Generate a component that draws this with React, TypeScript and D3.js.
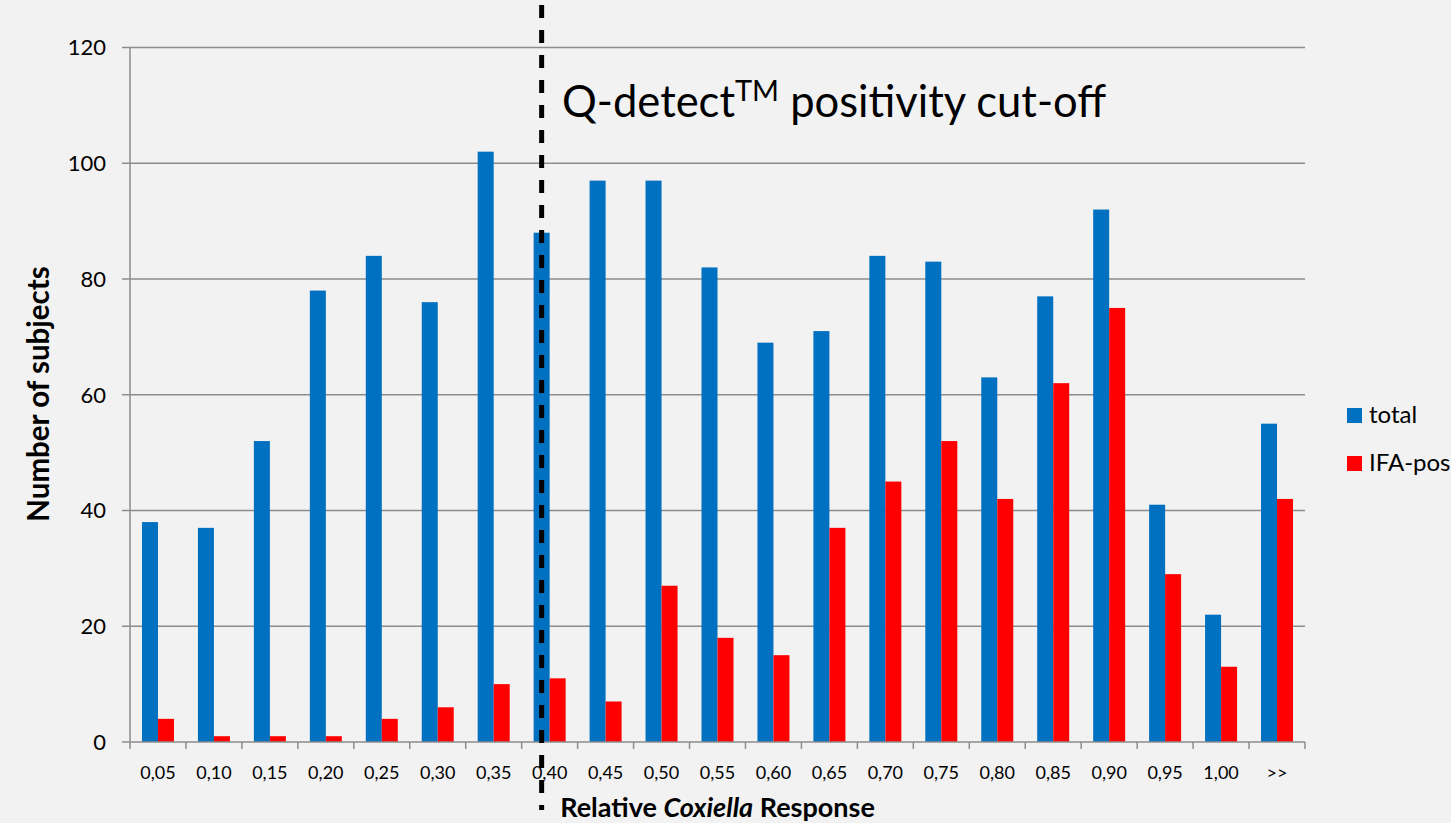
import React, { useRef, useEffect } from 'react';
import * as d3 from 'd3';

const categories = ['0,05', '0,10', '0,15', '0,20', '0,25', '0,30', '0,35', '0,40', '0,45', '0,50', '0,55', '0,60', '0,65', '0,70', '0,75', '0,80', '0,85', '0,90', '0,95', '1,00', '>>'];
const totalValues = [38, 37, 52, 78, 84, 76, 102, 88, 97, 97, 82, 69, 71, 84, 83, 63, 77, 92, 41, 22, 55];
const ifaPosValues = [4, 1, 1, 1, 4, 6, 10, 11, 7, 27, 18, 15, 37, 45, 52, 42, 62, 75, 29, 13, 42];
const yTicks = [0, 20, 40, 60, 80, 100, 120];
const seriesNames = ['total', 'IFA-pos'];
const seriesColors = ['#0070c0', '#ff0000'];
const cutoffCategory = '0,40';

const FONT = 'Lato, "Open Sans", sans-serif';

const App = () => {
  const ref = useRef<SVGSVGElement>(null);

  useEffect(() => {
    const svg = d3.select(ref.current);
    svg.selectAll('*').remove();

    const margin = { top: 47.5, left: 130, right: 146, bottom: 81 };
    const width = 1451;
    const height = 823;
    const graphWidth = width - margin.left - margin.right;
    const graphHeight = height - margin.top - margin.bottom;

    svg.append('rect').attr('width', width).attr('height', height).attr('fill', '#f2f2f2');

    const graph = svg.append('g').attr('transform', `translate(${margin.left}, ${margin.top})`);

    const x = d3.scaleBand().domain(categories).range([0, graphWidth]);
    const y = d3.scaleLinear().domain([0, 120]).range([graphHeight, 0]);
    const barW = 16;

    // gridlines
    graph
      .selectAll('line.grid')
      .data(yTicks.filter((t) => t > 0))
      .enter()
      .append('line')
      .attr('x1', -8)
      .attr('x2', graphWidth)
      .attr('y1', (d) => y(d))
      .attr('y2', (d) => y(d))
      .attr('stroke', '#8c8c8c')
      .attr('stroke-width', 1.5);

    // bars
    const series = [totalValues, ifaPosValues];
    series.forEach((vals, s) => {
      graph
        .selectAll(`rect.s${s}`)
        .data(vals)
        .enter()
        .append('rect')
        .attr('x', (d, i) => (x(categories[i]) as number) + x.bandwidth() / 2 - barW + s * barW)
        .attr('y', (d) => y(d))
        .attr('width', barW)
        .attr('height', (d) => graphHeight - y(d))
        .attr('fill', seriesColors[s]);
    });

    // axes lines
    graph.append('line').attr('x1', 0).attr('x2', 0).attr('y1', 0).attr('y2', graphHeight)
      .attr('stroke', '#8c8c8c').attr('stroke-width', 1.5);
    graph.append('line').attr('x1', -8).attr('x2', graphWidth).attr('y1', graphHeight).attr('y2', graphHeight)
      .attr('stroke', '#8c8c8c').attr('stroke-width', 1.5);

    // y labels
    graph
      .selectAll('text.ylab')
      .data(yTicks)
      .enter()
      .append('text')
      .attr('x', -24)
      .attr('y', (d) => y(d))
      .attr('dy', '0.36em')
      .attr('text-anchor', 'end')
      .attr('font-family', FONT)
      .attr('font-size', 22)
      .attr('fill', '#000')
      .text((d) => d);

    // x ticks
    const tickPositions = categories.map((c) => x(c) as number).concat([graphWidth]);
    graph
      .selectAll('line.xtick')
      .data(tickPositions)
      .enter()
      .append('line')
      .attr('x1', (d) => d)
      .attr('x2', (d) => d)
      .attr('y1', graphHeight)
      .attr('y2', graphHeight + 7)
      .attr('stroke', '#8c8c8c')
      .attr('stroke-width', 1.5);
    graph
      .selectAll('text.xlab')
      .data(categories)
      .enter()
      .append('text')
      .attr('x', (d) => (x(d) as number) + x.bandwidth() / 2)
      .attr('y', 779 - margin.top)
      .attr('text-anchor', 'middle')
      .attr('font-family', FONT)
      .attr('font-size', 18)
      .attr('fill', '#000')
      .text((d) => d);

    // axis titles
    const xTitle = svg
      .append('text')
      .attr('x', margin.left + graphWidth / 2)
      .attr('y', 817)
      .attr('text-anchor', 'middle')
      .attr('font-family', FONT)
      .attr('font-size', 27)
      .attr('font-weight', 'bold');
    xTitle.append('tspan').text('Relative ');
    xTitle.append('tspan').attr('font-style', 'italic').text('Coxiella');
    xTitle.append('tspan').text(' Response');

    svg
      .append('text')
      .attr('transform', `translate(49, 394) rotate(-90)`)
      .attr('text-anchor', 'middle')
      .attr('font-family', FONT)
      .attr('font-size', 29.5)
      .attr('font-weight', 'bold')
      .text('Number of subjects');

    // cut-off line
    const cx = margin.left + (x(cutoffCategory) as number) + x.bandwidth() / 2 - 8;
    svg
      .append('line')
      .attr('x1', cx)
      .attr('x2', cx)
      .attr('y1', 5)
      .attr('y2', 810)
      .attr('stroke', '#000')
      .attr('stroke-width', 5)
      .attr('stroke-dasharray', '13 12');

    const ann = svg
      .append('text')
      .attr('x', 562)
      .attr('y', 117)
      .attr('font-family', FONT)
      .attr('font-size', 43.5)
      .attr('fill', '#000');
    ann.append('tspan').text('Q-detect');
    ann.append('tspan').attr('font-size', 29).attr('dy', -16).text('TM');
    ann.append('tspan').attr('dy', 16).text(' positivity cut-off');

    // legend
    const legend = svg.append('g').attr('transform', 'translate(1347, 408)');
    seriesNames.forEach((name, i) => {
      const g = legend.append('g').attr('transform', `translate(0, ${i * 48})`);
      g.append('rect').attr('width', 15).attr('height', 15).attr('fill', seriesColors[i]);
      g.append('text')
        .attr('x', 22)
        .attr('y', 15)
        .attr('font-family', FONT)
        .attr('font-size', 24)
        .text(name);
    });
  }, []);

  return <svg ref={ref} width={1451} height={823} style={{ position: 'absolute', left: 0, top: 0 }} />;
};

export default App;
